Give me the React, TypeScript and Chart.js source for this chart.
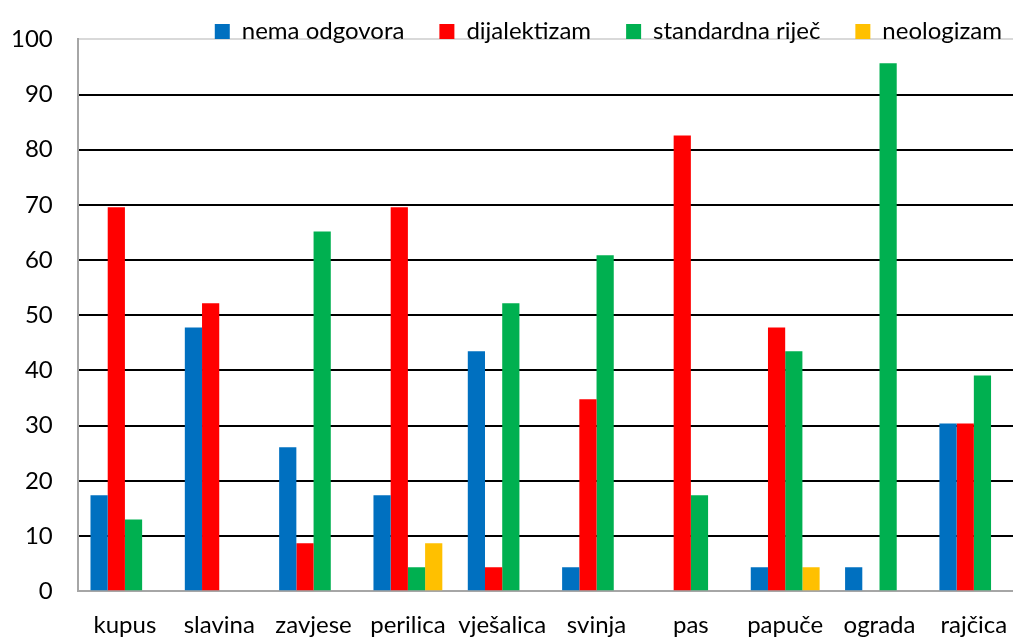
import React, { useEffect, useRef } from "react";
import { Chart, registerables } from "chart.js";

Chart.register(...registerables);

const categories = ["kupus", "slavina", "zavjese", "perilica", "vješalica", "svinja", "pas", "papuče", "ograda", "rajčica"];
const nemaOdgovora = [17.4, 47.8, 26.1, 17.4, 43.5, 4.35, 0, 4.35, 4.35, 30.4];
const dijalektizam = [69.6, 52.2, 8.7, 69.6, 4.35, 34.8, 82.6, 47.8, 0, 30.4];
const standardnaRijec = [13.0, 0, 65.2, 4.35, 52.2, 60.9, 17.4, 43.5, 95.7, 39.1];
const neologizam = [0, 0, 0, 8.7, 0, 0, 0, 4.35, 0, 0];
const yTicks = [0, 10, 20, 30, 40, 50, 60, 70, 80, 90, 100];

const FONT = "Lato";
const FS = 24;

const legendShift = {
  id: "legendShift",
  afterLayout(chart: any) {
    const lg = chart.legend;
    if (lg) {
      lg.left += 16;
      lg.right += 16;
      lg.top -= 21;
      lg.bottom += 8;
    }
  },
};

export default function App() {
  const ref = useRef<HTMLCanvasElement | null>(null);
  useEffect(() => {
    if (!ref.current) return;
    const chart = new Chart(ref.current, {
      type: "bar",
      data: {
        labels: categories,
        datasets: [
          { label: "nema odgovora", data: nemaOdgovora, backgroundColor: "#0070C0" },
          { label: "dijalektizam", data: dijalektizam, backgroundColor: "#FF0000" },
          { label: "standardna riječ", data: standardnaRijec, backgroundColor: "#00B050" },
          { label: "neologizam", data: neologizam, backgroundColor: "#FFC000" },
        ],
      },
      options: {
        animation: false,
        responsive: true,
        maintainAspectRatio: false,
        events: [],
        layout: { padding: { left: 0, right: 9, top: 0, bottom: 0 } },
        datasets: { bar: { categoryPercentage: 0.73, barPercentage: 1 } },
        plugins: {
          tooltip: { enabled: false },
          legend: {
            position: "top",
            align: "end",
            maxHeight: 34,
            labels: {
              boxWidth: 15,
              boxHeight: 15,
              padding: 35,
              color: "#000",
              font: { family: FONT, size: FS },
            },
          },
        },
        scales: {
          x: {
            grid: { display: false, drawTicks: false },
            border: { display: true, color: "#A6A6A6", width: 2 },
            ticks: { color: "#000", padding: 20, font: { family: FONT, size: FS }, maxRotation: 0, autoSkip: false },
          },
          y: {
            min: 0,
            max: 100,
            afterBuildTicks: (axis: any) => {
              axis.ticks = yTicks.map((v) => ({ value: v }));
            },
            grid: {
              drawTicks: false,
              lineWidth: 2,
              color: (ctx: any) => (ctx.tick && ctx.tick.value === 100 ? "#D9D9D9" : ctx.tick && ctx.tick.value === 0 ? "#A6A6A6" : "#000000"),
            },
            border: { display: true, color: "#A6A6A6", width: 2 },
            ticks: { color: "#000", padding: 25, font: { family: FONT, size: FS } },
          },
        },
      },
      plugins: [legendShift],
    });
    return () => chart.destroy();
  }, []);
  return (
    <div style={{ position: "absolute", left: 0, top: 0, width: 1013, height: 639, overflow: "hidden", background: "#fff" }}>
      <div style={{ position: "absolute", left: -14, top: 0, width: 1044, height: 660 }}>
        <canvas ref={ref} />
      </div>
    </div>
  );
}
